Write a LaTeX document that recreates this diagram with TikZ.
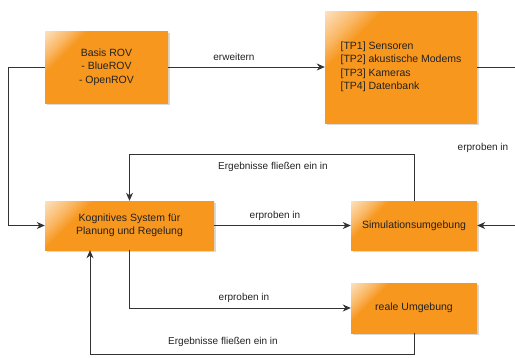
\documentclass[tikz,border=0pt]{standalone}
\usepackage{fontspec}
\setmainfont{Liberation Sans}
\usetikzlibrary{arrows.meta,shadows}
\definecolor{boxorange}{HTML}{F7971E}
\definecolor{boxlight}{HTML}{FAB865}
\definecolor{boxwhite}{HTML}{FDE3C4}
\definecolor{linegray}{HTML}{333333}
\definecolor{textgray}{HTML}{222222}
\pgfdeclarehorizontalshading{gloss}{100bp}{color(0bp)=(boxwhite); color(14bp)=(boxwhite); color(24bp)=(boxlight); color(30bp)=(boxorange); color(100bp)=(boxorange)}
\tikzset{
  box/.style={shading=gloss, shading angle=-45, drop shadow={shadow xshift=2pt, shadow yshift=-2pt, opacity=0.3},
    text=textgray, font=\fontsize{10.5}{13.5}\selectfont, align=center, inner sep=0pt},
  conn/.style={draw=linegray, line width=0.9pt, -{Stealth[length=8pt,width=7pt,inset=2.5pt]}},
  lbl/.style={text=textgray, font=\fontsize{10}{12}\selectfont, inner sep=0pt}
}
\begin{document}
\begin{tikzpicture}[x=1pt,y=-1pt]
\useasboundingbox (0,0) rectangle (515,357);
\clip (0,0) rectangle (515,357);
\node[box, minimum width=123pt, minimum height=72pt] (basis) at (106.5,67) {Basis ROV\\- BlueROV\\- OpenROV};
\node[box, minimum width=152pt, minimum height=112pt, align=left] (tp) at (401,67) {{[TP1]} Sensoren\\{[TP2]} akustische Modems\\{[TP3]} Kameras\\{[TP4]} Datenbank};
\node[box, minimum width=169pt, minimum height=49pt] (kog) at (129.5,225.5) {Kognitives System f\"ur\\Planung und Regelung};
\node[box, minimum width=126pt, minimum height=49pt] (sim) at (414,225.5) {Simulationsumgebung};
\node[box, minimum width=126pt, minimum height=50pt] (real) at (414,308) {reale Umgebung};

\coordinate (lft) at (8,67);
\coordinate (rt) at (535,67);
\coordinate (topc) at (129.5,154);
\coordinate (botc) at (90,354);

\draw[conn] (basis.east) -- (tp.west);
\draw[conn] (basis.west) -- (lft) |- (kog.west);
\draw[conn] (tp.east) -- (rt) |- (sim.east);
\draw[conn] (kog.east) -- (sim.west);
\draw[conn] (sim.north) |- (topc) -- (kog.north);
\draw[conn] (kog.south) |- (real.west);
\draw[conn] (real.south) |- (botc) -- (kog.south -| botc);

\node[lbl] (l1) at (234,57) {erweitern};
\node[lbl] (l2) at (483,148) {erproben in};
\node[lbl] (l3) at (273,167) {Ergebnisse flie\ss en ein in};
\node[lbl] (l4) at (275,216) {erproben in};
\node[lbl] (l5) at (244,298) {erproben in};
\node[lbl] (l6) at (223,342) {Ergebnisse flie\ss en ein in};
\end{tikzpicture}
\end{document}
